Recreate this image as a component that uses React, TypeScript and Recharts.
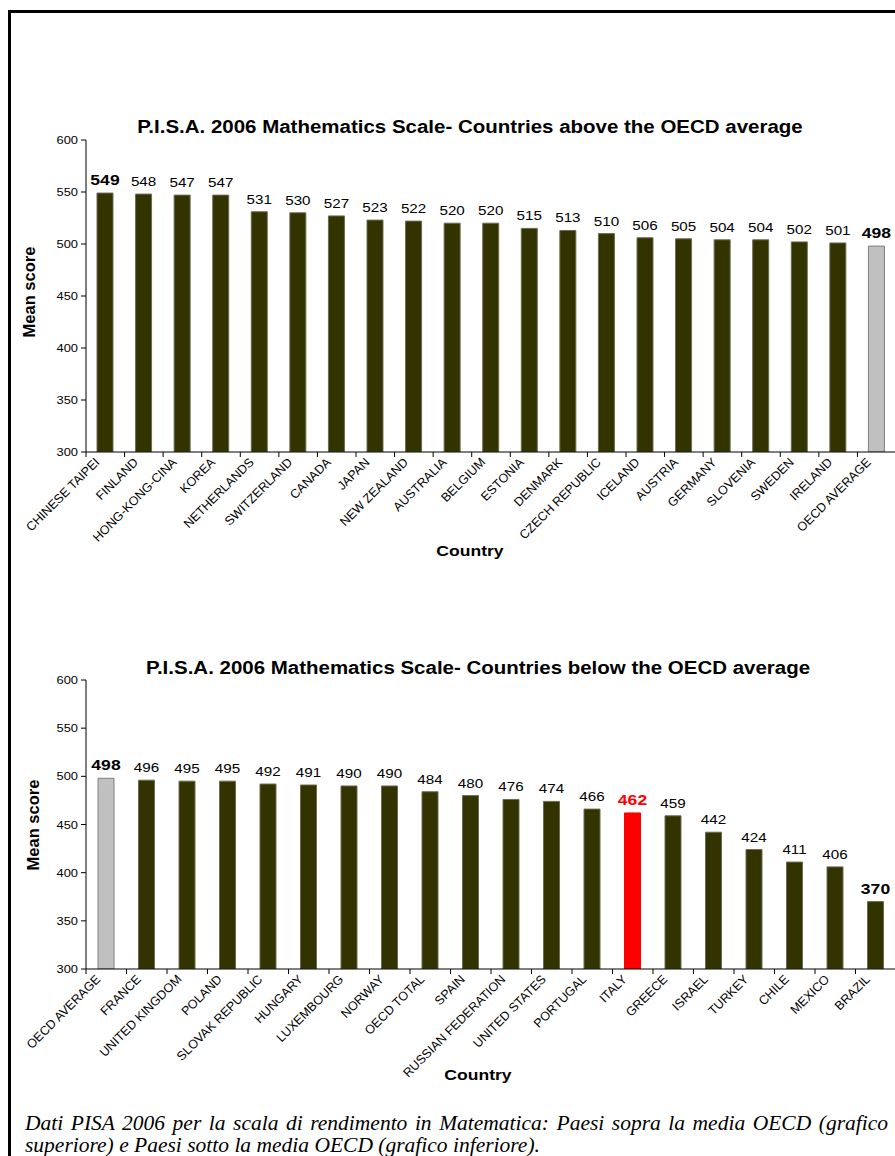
import React from 'react';
import { BarChart, Bar, XAxis, YAxis, Cell, LabelList } from 'recharts';

document.body.style.margin = '0';

const aboveCountries = [
  'CHINESE TAIPEI', 'FINLAND', 'HONG-KONG-CINA', 'KOREA', 'NETHERLANDS', 'SWITZERLAND', 'CANADA',
  'JAPAN', 'NEW ZEALAND', 'AUSTRALIA', 'BELGIUM', 'ESTONIA', 'DENMARK', 'CZECH REPUBLIC',
  'ICELAND', 'AUSTRIA', 'GERMANY', 'SLOVENIA', 'SWEDEN', 'IRELAND', 'OECD AVERAGE',
];
const aboveScores = [549, 548, 547, 547, 531, 530, 527, 523, 522, 520, 520, 515, 513, 510, 506, 505, 504, 504, 502, 501, 498];

const belowCountries = [
  'OECD AVERAGE', 'FRANCE', 'UNITED KINGDOM', 'POLAND', 'SLOVAK REPUBLIC', 'HUNGARY', 'LUXEMBOURG',
  'NORWAY', 'OECD TOTAL', 'SPAIN', 'RUSSIAN FEDERATION', 'UNITED STATES', 'PORTUGAL', 'ITALY',
  'GREECE', 'ISRAEL', 'TURKEY', 'CHILE', 'MEXICO', 'BRAZIL',
];
const belowScores = [498, 496, 495, 495, 492, 491, 490, 490, 484, 480, 476, 474, 466, 462, 459, 442, 424, 411, 406, 370];

const yTicks = [300, 350, 400, 450, 500, 550, 600];

const FONT = '"Liberation Sans", Arial, sans-serif';
const BAR = '#333300';
// the original picture is a bit wider than tall, text looks stretched
const SX = 1.17;

const barFill = (name: string) => (name === 'OECD AVERAGE' ? '#c0c0c0' : name === 'ITALY' ? '#ff0000' : BAR);
const barStroke = (name: string) => (name === 'OECD AVERAGE' ? '#808080' : name === 'ITALY' ? '#ff0000' : '#6b6b55');

function makeData(names: string[], scores: number[]) {
  return names.map((name, i) => ({ name, score: scores[i] }));
}

const PLOT_W = 810;

function CatTick(props: any) {
  const { x, y, payload, index, count } = props;
  const bw = PLOT_W / count;
  return (
    <g>
      <line x1={x - bw / 2} y1={y} x2={x - bw / 2} y2={y + 5} stroke="#000" />
      {index === count - 1 && <line x1={x + bw / 2} y1={y} x2={x + bw / 2} y2={y + 5} stroke="#000" />}
      <text
        transform={`translate(${x - 5},${y + 11}) rotate(-45)`}
        textAnchor="end"
        fontSize={12.5}
        fontFamily={FONT}
        fill="#000"
      >
        {payload.value}
      </text>
    </g>
  );
}

function ValTick(props: any) {
  const { x, y, payload } = props;
  return (
    <text
      transform={`translate(${x},${y + 4}) scale(${SX},1)`}
      textAnchor="end"
      fontSize={11}
      fontFamily={FONT}
      fill="#000"
    >
      {payload.value}
    </text>
  );
}

function ScoreChart({ names, scores, height, top, axisH, bold }: any) {
  const data = makeData(names, scores);
  const renderLabel = (p: any) => {
    const name = names[p.index];
    const isBold = bold.includes(name);
    return (
      <text
        transform={`translate(${p.x + p.width / 2},${p.y - 8}) scale(${SX},1)`}
        textAnchor="middle"
        fontFamily={FONT}
        fontSize={isBold ? 15 : 13}
        fontWeight={isBold ? 'bold' : 'normal'}
        fill={name === 'ITALY' ? '#ff0000' : '#000'}
      >
        {p.value}
      </text>
    );
  };
  return (
    <BarChart width={910} height={height} data={data} margin={{ top, right: 14, bottom: 0, left: 0 }}>
      <YAxis
        width={86}
        domain={[300, 600]}
        ticks={yTicks}
        allowDataOverflow
        tickSize={5}
        tickMargin={3}
        axisLine={{ stroke: '#000' }}
        tickLine={{ stroke: '#000' }}
        tick={<ValTick />}
      />
      <XAxis
        dataKey="name"
        height={axisH}
        interval={0}
        tickSize={0}
        tickMargin={0}
        axisLine={{ stroke: '#000' }}
        tickLine={false}
        tick={<CatTick count={names.length} />}
      />
      <Bar dataKey="score" barSize={16} isAnimationActive={false}>
        {data.map((d) => (
          <Cell key={d.name} fill={barFill(d.name)} stroke={barStroke(d.name)} strokeWidth={1} />
        ))}
        <LabelList dataKey="score" content={renderLabel} />
      </Bar>
    </BarChart>
  );
}

const titleStyle: React.CSSProperties = {
  position: 'absolute',
  fontFamily: FONT,
  fontWeight: 'bold',
  fontSize: 17.5,
  whiteSpace: 'nowrap',
  transform: `translate(-50%, -50%) scaleX(${SX})`,
  lineHeight: 1,
};

const yLabelStyle: React.CSSProperties = {
  position: 'absolute',
  fontFamily: FONT,
  fontWeight: 'bold',
  fontSize: 16.5,
  whiteSpace: 'nowrap',
  transform: 'translate(-50%, -50%) rotate(-90deg)',
  lineHeight: 1,
};

const xLabelStyle: React.CSSProperties = {
  position: 'absolute',
  fontFamily: FONT,
  fontWeight: 'bold',
  fontSize: 15,
  whiteSpace: 'nowrap',
  transform: `translate(-50%, -50%) scaleX(${SX})`,
  lineHeight: 1,
};

export default function App() {
  return (
    <div style={{ position: 'relative', width: 895, height: 1156, overflow: 'hidden', background: '#fff' }}>
      <div
        style={{
          position: 'absolute',
          left: 8,
          top: 10,
          width: 1000,
          height: 1300,
          borderLeft: '3px solid #000',
          borderTop: '3px solid #000',
        }}
      />
      <div style={{ position: 'absolute', left: 0, top: 0 }}>
        <ScoreChart
          names={aboveCountries}
          scores={aboveScores}
          height={560}
          top={140}
          axisH={108}
          bold={['CHINESE TAIPEI', 'OECD AVERAGE']}
        />
      </div>
      <div style={{ position: 'absolute', left: 0, top: 580 }}>
        <ScoreChart
          names={belowCountries}
          scores={belowScores}
          height={520}
          top={100}
          axisH={131}
          bold={['OECD AVERAGE', 'ITALY', 'BRAZIL']}
        />
      </div>

      <div style={{ ...titleStyle, left: 470, top: 128 }}>
        P.I.S.A. 2006 Mathematics Scale- Countries above the OECD average
      </div>
      <div style={{ ...yLabelStyle, left: 29, top: 292 }}>Mean score</div>
      <div style={{ ...xLabelStyle, left: 470, top: 550 }}>Country</div>

      <div style={{ ...titleStyle, left: 478, top: 669 }}>
        P.I.S.A. 2006 Mathematics Scale- Countries below the OECD average
      </div>
      <div style={{ ...yLabelStyle, left: 33, top: 825 }}>Mean score</div>
      <div style={{ ...xLabelStyle, left: 478, top: 1074 }}>Country</div>

      <div
        style={{
          position: 'absolute',
          left: 25,
          top: 1112,
          width: 863,
          fontFamily: '"Liberation Serif", "Times New Roman", serif',
          fontStyle: 'italic',
          fontSize: 21.5,
          lineHeight: '22px',
        }}
      >
        <div style={{ textAlign: 'justify', textAlignLast: 'justify' }}>
          Dati PISA 2006 per la scala di rendimento in Matematica: Paesi sopra la media OECD (grafico
        </div>
        <div>superiore) e Paesi sotto la media OECD (grafico inferiore).</div>
      </div>
    </div>
  );
}
